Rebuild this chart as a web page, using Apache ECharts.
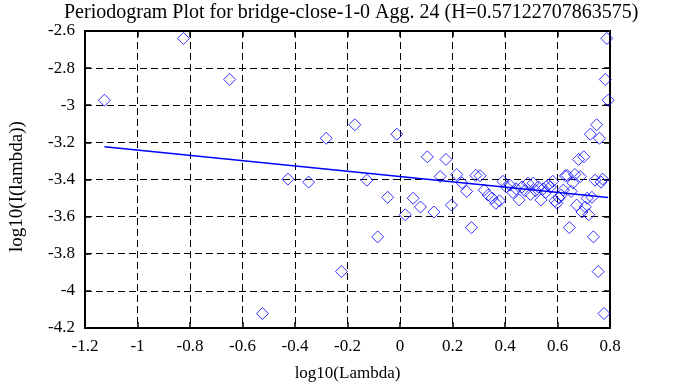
<!DOCTYPE html>
<html>
<head>
<meta charset="utf-8">
<script src="https://cdn.jsdelivr.net/npm/echarts@6/dist/echarts.min.js"></script>
<style>
html,body{margin:0;padding:0;background:#fff;}
#chart{width:683px;height:387px;}
</style>
</head>
<body>
<div id="chart"></div>
<script>
var titleText = 'Periodogram Plot for bridge-close-1-0 Agg. 24 (H=0.57122707863575)';
var xName = 'log10(Lambda)';
var yName = 'log10(I(lambda))';

var logLambda = [
  -1.126, -0.825, -0.649, -0.524, -0.427, -0.348, -0.281, -0.223, -0.172, -0.126,
  -0.085, -0.047, -0.012, 0.020, 0.050, 0.078, 0.104, 0.129, 0.153, 0.175,
  0.196, 0.216, 0.236, 0.254, 0.272, 0.289, 0.305, 0.321, 0.336, 0.351,
  0.365, 0.379, 0.392, 0.405, 0.418, 0.430, 0.442, 0.454, 0.465, 0.476,
  0.487, 0.497, 0.507, 0.517, 0.527, 0.537, 0.546, 0.555, 0.564, 0.573,
  0.582, 0.590, 0.598, 0.606, 0.614, 0.622, 0.630, 0.637, 0.645, 0.652,
  0.659, 0.666, 0.673, 0.680, 0.687, 0.693, 0.700, 0.706, 0.713, 0.719,
  0.725, 0.731, 0.737, 0.743, 0.749, 0.755, 0.760, 0.766, 0.772, 0.777,
  0.782, 0.788, 0.793
];

var logPower = [
  -2.973, -2.640, -2.861, -4.122, -3.398, -3.414, -3.178, -3.896, -3.105, -3.404,
  -3.709, -3.496, -3.156, -3.590, -3.501, -3.548, -3.278, -3.575, -3.384, -3.292,
  -3.538, -3.373, -3.418, -3.464, -3.659, -3.378, -3.380, -3.457, -3.484, -3.500,
  -3.528, -3.515, -3.410, -3.440, -3.430, -3.470, -3.450, -3.510, -3.440, -3.460,
  -3.420, -3.480, -3.420, -3.460, -3.440, -3.510, -3.450, -3.470, -3.430, -3.440,
  -3.410, -3.515, -3.528, -3.500, -3.484, -3.457, -3.380, -3.378, -3.659, -3.464,
  -3.418, -3.373, -3.538, -3.292, -3.384, -3.575, -3.278, -3.548, -3.501, -3.590,
  -3.156, -3.496, -3.709, -3.404, -3.105, -3.896, -3.178, -3.414, -3.398, -4.122,
  -2.861, -2.640, -2.973
];

var fitX = [-1.126, 0.793];
var fitY = [-3.224, -3.497];

var xTicks = [-1.2, 0.8, 0.2];
var yTicks = [-4.2, -2.6, 0.2];

var font = 'Liberation Serif, Times New Roman, serif';
var scatterData = logLambda.map(function (x, i) { return [x, logPower[i]]; });
var lineData = fitX.map(function (x, i) { return [x, fitY[i]]; });

function fmt(v) { return String(+v.toFixed(1)); }

var axisLineStyle = { color: '#000', width: 2 };
var tickStyle = { inside: true, length: 6, lineStyle: { color: '#000', width: 1.5 } };
var splitStyle = { show: true, lineStyle: { color: '#000', width: 1, type: [7, 4] } };

var chart = echarts.init(document.getElementById('chart'), null, { renderer: 'canvas' });
chart.setOption({
  animation: false,
  backgroundColor: '#fff',
  title: {
    text: titleText,
    left: 59,
    top: -2,
    textStyle: { fontFamily: font, fontSize: 20, fontWeight: 'normal', color: '#000' }
  },
  grid: { left: 82, right: 73, top: 31, bottom: 56, containLabel: false },
  xAxis: [
    {
      type: 'value', position: 'bottom', min: xTicks[0], max: xTicks[1], interval: xTicks[2],
      axisLine: { onZero: false, lineStyle: axisLineStyle },
      axisTick: tickStyle,
      axisLabel: { color: '#000', fontFamily: font, fontSize: 17, margin: 10, formatter: fmt },
      splitLine: splitStyle,
      name: xName, nameLocation: 'middle', nameGap: 37,
      nameTextStyle: { color: '#000', fontFamily: font, fontSize: 17 }
    },
    {
      type: 'value', position: 'top', min: xTicks[0], max: xTicks[1], interval: xTicks[2],
      axisLine: { onZero: false, lineStyle: axisLineStyle },
      axisTick: tickStyle,
      axisLabel: { show: false },
      splitLine: { show: false }
    }
  ],
  yAxis: [
    {
      type: 'value', position: 'left', min: yTicks[0], max: yTicks[1], interval: yTicks[2],
      axisLine: { onZero: false, lineStyle: axisLineStyle },
      axisTick: tickStyle,
      axisLabel: { color: '#000', fontFamily: font, fontSize: 17, margin: 10, formatter: fmt, padding: [0, 0, 5, 0] },
      splitLine: splitStyle,
      name: yName, nameLocation: 'middle', nameGap: 58,
      nameTextStyle: { color: '#000', fontFamily: font, fontSize: 19, padding: [0, 14, 0, 0] }
    },
    {
      type: 'value', position: 'right', min: yTicks[0], max: yTicks[1], interval: yTicks[2],
      axisLine: { onZero: false, lineStyle: axisLineStyle },
      axisTick: tickStyle,
      axisLabel: { show: false },
      splitLine: { show: false }
    }
  ],
  series: [
    {
      type: 'scatter',
      data: scatterData,
      symbol: 'diamond',
      symbolSize: 12,
      clip: false,
      itemStyle: { color: 'rgba(0,0,0,0)', borderColor: '#0000ff', borderWidth: 1 },
      emphasis: { disabled: true }
    },
    {
      type: 'line',
      data: lineData,
      showSymbol: false,
      symbol: 'none',
      lineStyle: { color: '#0000ff', width: 1.5 },
      emphasis: { disabled: true }
    }
  ]
});
</script>
</body>
</html>
